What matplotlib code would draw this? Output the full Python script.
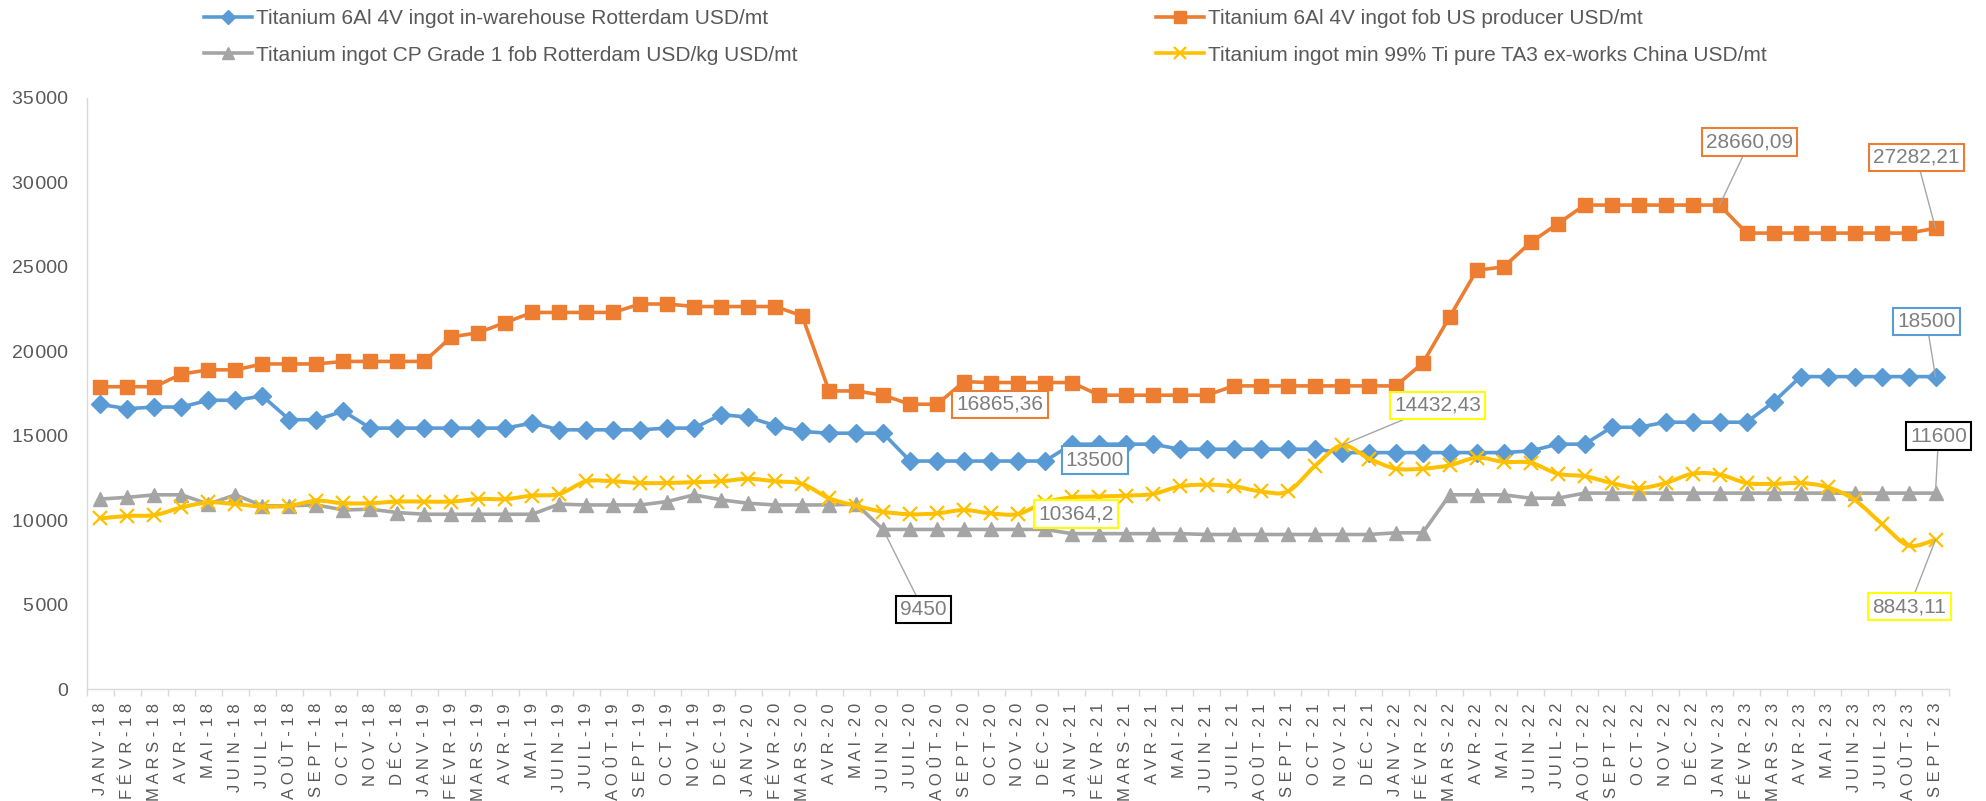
import numpy as np
import matplotlib
matplotlib.use('Agg')
import matplotlib.pyplot as plt
from matplotlib.lines import Line2D
from matplotlib.path import Path
from matplotlib.patches import PathPatch

plt.rcParams['font.family'] = ['Liberation Sans', 'DejaVu Sans']

months = ['JANV', 'FÉVR', 'MARS', 'AVR', 'MAI', 'JUIN',
          'JUIL', 'AOÛT', 'SEPT', 'OCT', 'NOV', 'DÉC']
years = ['18', '19', '20', '21', '22', '23']
labels = [m + '-' + y for y in years for m in months][:69]

names = ['Titanium 6Al 4V ingot in-warehouse Rotterdam USD/mt',
         'Titanium 6Al 4V ingot fob US producer USD/mt',
         'Titanium ingot CP Grade 1 fob Rotterdam USD/kg USD/mt',
         'Titanium ingot min 99% Ti pure TA3 ex-works China USD/mt']

warehouse = [16850, 16600, 16700, 16700, 17100, 17100, 17350, 15950, 15950, 16450,
             15450, 15450, 15450, 15450, 15450, 15450, 15750, 15350, 15350, 15350,
             15350, 15450, 15450, 16250, 16100, 15600, 15250, 15150, 15150, 15150,
             13500, 13500, 13500, 13500, 13500, 13500, 14500, 14500, 14500, 14500,
             14200, 14200, 14200, 14200, 14200, 14200, 14000, 14000, 14000, 14000,
             14000, 14000, 14000, 14100, 14500, 14500, 15500, 15500, 15800, 15800,
             15800, 15800, 17000, 18500, 18500, 18500, 18500, 18500, 18500]

us_producer = [17900, 17900, 17900, 18650, 18900, 18900, 19250, 19250, 19250, 19400,
               19400, 19400, 19400, 20850, 21100, 21700, 22300, 22300, 22300, 22300,
               22800, 22800, 22650, 22650, 22650, 22650, 22100, 17650, 17650, 17400,
               16865.36, 16865.36, 18200, 18150, 18150, 18150, 18150, 17400, 17400, 17400,
               17400, 17400, 17950, 17950, 17950, 17950, 17950, 17950, 17950, 19300,
               22050, 24800, 25000, 26450, 27550, 28660.09, 28660.09, 28660.09, 28660.09, 28660.09,
               28660.09, 27000, 27000, 27000, 27000, 27000, 27000, 27000, 27282.21]

cp_grade1 = [11250, 11350, 11500, 11500, 10950, 11500, 10850, 10850, 10900, 10600,
             10650, 10450, 10350, 10350, 10350, 10350, 10350, 10950, 10900, 10900,
             10900, 11100, 11500, 11200, 11000, 10900, 10900, 10900, 10950, 9450,
             9450, 9450, 9450, 9450, 9450, 9450, 9200, 9200, 9200, 9200,
             9200, 9150, 9150, 9150, 9150, 9150, 9150, 9150, 9250, 9250,
             11500, 11500, 11500, 11300, 11300, 11600, 11600, 11600, 11600, 11600,
             11600, 11600, 11600, 11600, 11600, 11600, 11600, 11600, 11600]

china_ta3 = [10100, 10250, 10300, 10750, 11050, 10950, 10800, 10850, 11150, 11000,
             11000, 11100, 11100, 11100, 11250, 11250, 11450, 11550, 12300, 12300,
             12200, 12200, 12250, 12300, 12450, 12300, 12150, 11300, 10850, 10500,
             10350, 10400, 10600, 10400, 10364.2, 11050, 11350, 11400, 11450, 11550,
             12000, 12100, 12000, 11700, 11700, 13200, 14432.43, 13650, 13050, 13050,
             13250, 13700, 13450, 13400, 12750, 12600, 12200, 11900, 12200, 12750,
             12700, 12200, 12150, 12200, 11950, 11200, 9800, 8500, 8843.11]

c_blue, c_orange, c_grey, c_yellow = '#5B9BD5', '#ED7D31', '#A5A5A5', '#FFC000'
txt = '#595959'

fig = plt.figure(figsize=(19.86, 8.01), dpi=100)
ax = fig.add_axes([87 / 1986, 1 - 689 / 801, 1862 / 1986, 591 / 801])
x = np.arange(len(labels))

ax.plot(x, warehouse, color=c_blue, lw=2.6, marker='D', ms=9, zorder=3)
ax.plot(x, us_producer, color=c_orange, lw=2.6, marker='s', ms=10.5, zorder=3)
ax.plot(x, cp_grade1, color=c_grey, lw=2.6, marker='^', ms=10.5, zorder=3)

# smoothed line like excel for the china series
pts = np.column_stack([x, china_ta3]).astype(float)
verts = [pts[0]]
codes = [Path.MOVETO]
n = len(pts)
for i in range(n - 1):
    p0 = pts[i - 1] if i > 0 else pts[i]
    p1, p2 = pts[i], pts[i + 1]
    p3 = pts[i + 2] if i + 2 < n else pts[i + 1]
    verts += [p1 + (p2 - p0) / 6, p2 - (p3 - p1) / 6, p2]
    codes += [Path.CURVE4] * 3
ax.add_patch(PathPatch(Path(verts, codes), facecolor='none', edgecolor=c_yellow,
                       lw=2.9, zorder=4, capstyle='round', joinstyle='round'))
ax.plot(x, china_ta3, linestyle='none', marker='x', ms=9.5, mew=1.6, color=c_yellow, zorder=4)

ax.set_xlim(-0.5, len(labels) - 0.5)
ax.set_ylim(0, 35000)
yt = np.arange(0, 35001, 5000)
ax.set_yticks(yt)
ax.set_yticklabels([f'{v:,}'.replace(',', '\u200a') for v in yt])
ax.set_xticks(x)
ax.set_xticklabels([' '.join(l) for l in labels], rotation=90, fontsize=12, color=txt)
ax.set_xticks(np.arange(-0.5, len(labels), 1), minor=True)
ax.tick_params(axis='x', which='major', length=0, pad=10)
ax.tick_params(axis='x', which='minor', length=5, color='#D9D9D9', width=1)
ax.tick_params(axis='y', length=0, pad=13.5, labelsize=14, labelcolor=txt)
for s in ['top', 'right']:
    ax.spines[s].set_visible(False)
for s in ['left', 'bottom']:
    ax.spines[s].set_color('#D9D9D9')
    ax.spines[s].set_linewidth(1)

# data labels
notes = [
    (60, us_producer[60], '28660,09', c_orange, (30, 63), True),
    (68, us_producer[68], '27282,21', c_orange, (-19, 71), True),
    (68, warehouse[68], '18500', c_blue, (-9, 55), True),
    (68, cp_grade1[68], '11600', 'black', (3, 57), True),
    (68, china_ta3[68], '8843,11', '#FFFF00', (-26, -67), True),
    (46, china_ta3[46], '14432,43', '#FFFF00', (96, 40), True),
    (31, us_producer[31], '16865,36', c_orange, (63, 0), False),
    (35, warehouse[35], '13500', c_blue, (50, 1), False),
    (34, china_ta3[34], '10364,2', '#FFFF00', (58, 0), False),
    (29, cp_grade1[29], '9450', 'black', (40, -80), True),
]
for xi, yi, t, ec, off, lead in notes:
    ap = dict(arrowstyle='-', color='#A6A6A6', lw=1, shrinkA=0, shrinkB=0) if lead else None
    ax.annotate(t, (xi, yi), xytext=off, textcoords='offset pixels', ha='center', va='center',
                fontsize=15, color='#7F7F7F', zorder=6, arrowprops=ap,
                bbox=dict(boxstyle='square,pad=0.2', fc='white', ec=ec, lw=1.5))

def handle(c, m, ms, mew=1.0):
    return Line2D([], [], color=c, lw=2.6, marker=m, ms=ms, mew=mew)

h = [handle(c_blue, 'D', 7.5), handle(c_orange, 's', 8.5),
     handle(c_grey, '^', 8.5), handle(c_yellow, 'x', 8.5, 1.6)]
kw = dict(frameon=False, fontsize=15, handlelength=2.3, handletextpad=0.2,
          labelspacing=0.85, borderpad=0, borderaxespad=0, labelcolor=txt, loc='upper left')
fig.legend([h[0], h[2]], [names[0], names[2]], bbox_to_anchor=(204 / 1986, 1 - 9 / 801), **kw)
fig.legend([h[1], h[3]], [names[1], names[3]], bbox_to_anchor=(1156 / 1986, 1 - 9 / 801), **kw)

fig.savefig('out.png', dpi=100, facecolor='white')
